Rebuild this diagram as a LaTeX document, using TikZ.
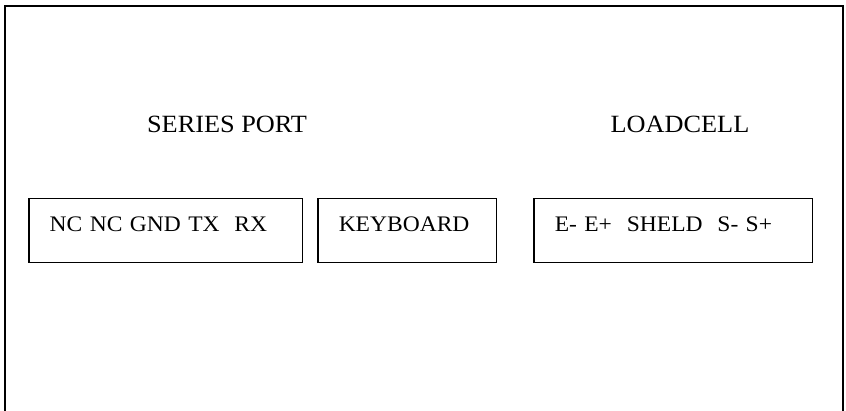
\documentclass[tikz,border=0pt]{standalone}
\usepackage{fontspec}
\setmainfont[FakeStretch=1.06]{Liberation Serif}
\usetikzlibrary{positioning}

\begin{document}
\begin{tikzpicture}[x=0.5pt,y=-0.5pt,node distance=7pt,
	portbox/.style={draw,line width=0.75pt,anchor=north west,inner xsep=10.5pt,inner ysep=0pt,
		text height=16.5pt,text depth=15.5pt,align=left,font=\fontsize{11.1}{13}\selectfont},
	heading/.style={anchor=base,inner sep=0pt,font=\fontsize{12.4}{14}\selectfont}]
	\useasboundingbox (0,0) rectangle (846,411);
	% frame, open at the bottom
	\draw[line width=1.1pt] (5,411) |- (843,6) -- (843,411);
	\node[heading] (serieslbl) at (227,133) {SERIES PORT};
	\node[heading] (loadlbl) at (680,133) {LOADCELL};
	\node[portbox,text width=115.75pt] (serial) at (28,198) {NC NC GND TX\ \ RX};
	\node[portbox,text width=68.25pt,right=7pt of serial] (keys) {KEYBOARD};
	\node[portbox,text width=118.25pt,right=18pt of keys] (cell) {E- E+\ \ SHELD\ \ S- S+};
\end{tikzpicture}
\end{document}
